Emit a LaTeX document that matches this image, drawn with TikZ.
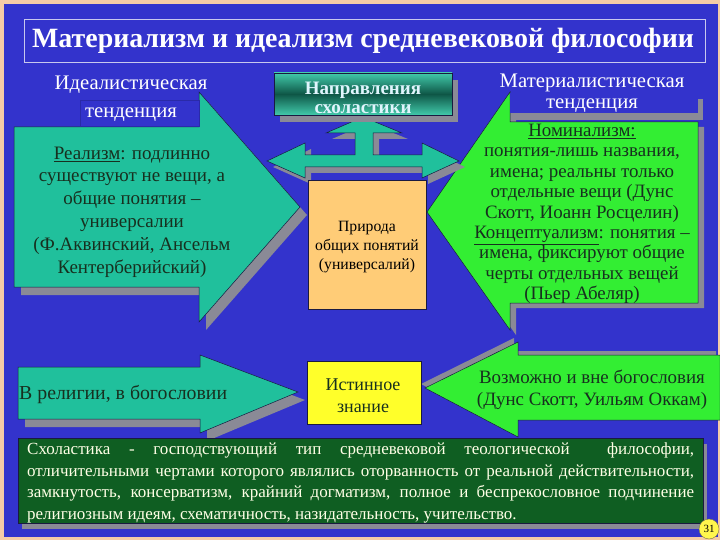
\documentclass[tikz,border=0pt]{standalone}
\usepackage{fontspec}
\setmainfont{Liberation Serif}
\definecolor{bgblue}{HTML}{3333CC}
\definecolor{bgdark}{HTML}{2A2AA8}
\definecolor{peachA}{HTML}{F5CBA7}
\definecolor{tealA}{HTML}{20C09C}
\definecolor{greenA}{HTML}{33EE33}
\definecolor{shadowG}{HTML}{8A8A96}
\definecolor{darkG}{HTML}{0F5E22}
\definecolor{boxO}{HTML}{FFCC77}
\definecolor{yellowA}{HTML}{FFFF2A}
\definecolor{txtD}{HTML}{17301F}
\definecolor{creamT}{HTML}{FFFFE6}
\definecolor{frameC}{HTML}{C8C8EE}
\definecolor{edgeD}{HTML}{1A1A40}
\tikzset{
  shapeline/.style={draw=edgeD, line width=0.5pt},
  shadowfill/.style={fill=shadowG},
  lbl/.style={text=white, font=\fontsize{20.7}{24}\selectfont, inner sep=0pt},
  arrtext/.style={text=txtD, align=center, inner sep=0pt}
}
\begin{document}
\begin{tikzpicture}[x=1pt,y=-1pt]
\useasboundingbox (0,0) rectangle (720,540);
% background
\fill[peachA] (0,0) rectangle (720,540);
\fill[bgblue] (4,4) rectangle (718,537);
% title
\draw[frameC, line width=0.8pt] (24,19) rectangle (705,62);
\node[text=white, font=\fontsize{27.9}{33}\selectfont\bfseries, inner sep=0pt] (title) at (363,41) {Материализм и идеализм средневековой философии};

% top-left arrow (teal)
\fill[shadowfill, shift={(7,8)}] (14,127) -- (199,127) -- (199,92) -- (300,207) -- (199,322) -- (199,287) -- (14,287) -- cycle;
\fill[tealA] (14,127) -- (199,127) -- (199,92) -- (300,207) -- (199,322) -- (199,287) -- (14,287) -- cycle;
\draw[shapeline] (14,127) -- (199,127) -- (199,92) -- (300,207) -- (199,322) -- (199,287) -- (14,287) -- cycle;

% top-right arrow (green)
\fill[shadowfill, shift={(6,5)}] (698,122) -- (510,122) -- (510,92) -- (427,212) -- (510,330) -- (510,303) -- (698,303) -- cycle;
\fill[greenA] (698,122) -- (510,122) -- (510,92) -- (427,212) -- (510,330) -- (510,303) -- (698,303) -- cycle;
\draw[shapeline] (698,122) -- (510,122) -- (510,92) -- (427,212) -- (510,330) -- (510,303) -- (698,303) -- cycle;

% label boxes
\draw[fill=bgblue, draw=bgdark, line width=0.6pt] (80,100) rectangle (199,126);
\fill[shadowfill] (514,99) rectangle (703,120);
\fill[bgblue] (510,93) rectangle (698,113);

\node[lbl] (ideal1) at (131,85) {Идеалистическая};
\node[lbl] (ideal2) at (131,115) {тенденция};
\node[lbl] (mat1) at (592,83) {Материалистическая};
\node[lbl] (mat2) at (592,106) {тенденция};

% T-shaped arrow
\fill[shadowfill, shift={(6,6)}] (363,117) -- (402,133) -- (373,133) -- (373,155) -- (422,155) -- (422,143) -- (459,161) -- (422,178) -- (422,167) -- (305,167) -- (305,178) -- (267,161) -- (305,143) -- (305,155) -- (355,155) -- (355,133) -- (326,133) -- cycle;
\fill[tealA] (363,117) -- (402,133) -- (373,133) -- (373,155) -- (422,155) -- (422,143) -- (459,161) -- (422,178) -- (422,167) -- (305,167) -- (305,178) -- (267,161) -- (305,143) -- (305,155) -- (355,155) -- (355,133) -- (326,133) -- cycle;
\draw[shapeline] (363,117) -- (402,133) -- (373,133) -- (373,155) -- (422,155) -- (422,143) -- (459,161) -- (422,178) -- (422,167) -- (305,167) -- (305,178) -- (267,161) -- (305,143) -- (305,155) -- (355,155) -- (355,133) -- (326,133) -- cycle;

% Napravlenia box
\fill[shadowfill] (280,80) rectangle (458,122);
\shade[top color=tealA!85!white, bottom color=tealA!85!white, middle color=tealA!45!black] (274,73) rectangle (452,115);
\draw[edgeD, line width=0.6pt] (274,73) rectangle (452,115);
\node[text=white!88!cyan, font=\fontsize{19}{19}\selectfont\bfseries, align=center, inner sep=0pt] (naprav) at (363,97.5) {Направления\\схоластики};

% left arrow text
\node[arrtext, font=\fontsize{19}{22.8}\selectfont] (realism) at (132,212) {\underline{Реализм}: подлинно\\существуют не вещи, а\\общие понятия –\\универсалии\\(Ф.Аквинский, Ансельм\\Кентерберийский)};

% right arrow text
\node[arrtext, font=\fontsize{18.9}{20.4}\selectfont] (nominal) at (582,214) {\underline{Номинализм:}\\понятия-лишь названия,\\имена; реальны только\\отдельные вещи (Дунс\\Скотт, Иоанн Росцелин)\\\underline{Концептуализм}: понятия –\\имена, фиксируют общие\\черты отдельных вещей\\(Пьер Абеляр)};

% center box
\node[draw=edgeD, line width=0.6pt, fill=boxO, minimum width=118pt, minimum height=129pt, inner sep=0pt] (natbox) at (367,244.5) {};
\node[text=black, font=\fontsize{15.7}{19}\selectfont, align=center, inner sep=0pt] (nature) at (367,247) {Природа\\общих понятий\\(универсалий)};

% bottom-left arrow
\fill[shadowfill, shift={(7,8)}] (18,367) -- (200,367) -- (200,355) -- (298,392) -- (200,433) -- (200,419) -- (18,419) -- cycle;
\fill[tealA] (18,367) -- (200,367) -- (200,355) -- (298,392) -- (200,433) -- (200,419) -- (18,419) -- cycle;
\draw[shapeline] (18,367) -- (200,367) -- (200,355) -- (298,392) -- (200,433) -- (200,419) -- (18,419) -- cycle;
\node[arrtext, anchor=west, font=\fontsize{19.8}{22}\selectfont] (religion) at (19,395) {В религии, в богословии};

% bottom-right arrow
\fill[shadowfill, shift={(-4,-4)}] (720,355) -- (518,355) -- (518,342) -- (425,388) -- (518,437) -- (518,420) -- (720,420) -- cycle;
\fill[greenA] (720,355) -- (518,355) -- (518,342) -- (425,388) -- (518,437) -- (518,420) -- (720,420) -- cycle;
\draw[shapeline] (720,355) -- (518,355) -- (518,342) -- (425,388) -- (518,437) -- (518,420) -- (720,420) -- cycle;
\node[arrtext, font=\fontsize{18.9}{22}\selectfont] (possible) at (592,390) {Возможно и вне богословия\\(Дунс Скотт, Уильям Оккам)};

% true knowledge box
\node[draw=edgeD, line width=0.6pt, fill=yellowA, minimum width=114pt, minimum height=63pt, inner sep=0pt] (truebox) at (364,392.5) {};
\node[text=txtD, font=\fontsize{18}{22}\selectfont, align=center, inner sep=0pt] (truth) at (363,396) {Истинное\\знание};

% bottom box
\fill[shadowfill] (22,444) rectangle (707,529);
\fill[darkG] (18,438) rectangle (703,523);
\draw[edgeD, line width=0.6pt] (18,438) rectangle (703,523);
\node[text=creamT, font=\fontsize{17}{21.5}\selectfont, align=left, inner sep=0pt, anchor=north west] (scholtext) at (27,443) {%
\makebox[667pt][s]{Схоластика - господствующий тип средневековой теологической \ философии,}\\
\makebox[667pt][s]{отличительными чертами которого являлись оторванность от реальной действительности,}\\
\makebox[667pt][s]{замкнутость, консерватизм, крайний догматизм, полное и беспрекословное подчинение}\\
\makebox[667pt][l]{религиозным идеям, схематичность, назидательность, учительство.}};

% page number
\node[circle, draw=black!60!yellow, fill=yellow!70!white, minimum size=20pt, inner sep=0pt, font=\fontsize{11}{12}\selectfont] (pagenum) at (709,529) {31};
\end{tikzpicture}
\end{document}
